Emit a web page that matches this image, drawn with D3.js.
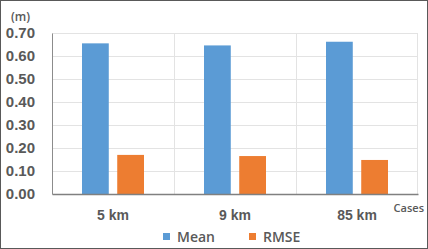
<!DOCTYPE html>
<html>
<head>
<meta charset="utf-8">
<script src="https://cdn.jsdelivr.net/npm/d3@7"></script>
<style>
  body { margin: 0; background: #fff; }
  svg { display: block; font-family: "Open Sans", "Liberation Sans", sans-serif; }
</style>
</head>
<body>
<div id="graph"></div>
<script>
// data
var cases = ["5 km", "9 km", "85 km"];
var seriesNames = ["Mean", "RMSE"];
var meanValues = [0.655, 0.646, 0.662];
var rmseValues = [0.170, 0.165, 0.148];
var yTicks = [0, 0.1, 0.2, 0.3, 0.4, 0.5, 0.6, 0.7];
var colors = ["#5B9BD5", "#ED7D31"];

var W = 428, H = 249;
var m = {top: 33, right: 10, bottom: 55, left: 52};
var w = W - m.left - m.right;
var h = H - m.top - m.bottom;

var svg = d3.select("#graph").append("svg")
    .attr("width", W)
    .attr("height", H);

// outer frame
svg.append("rect")
    .attr("x", 0.5).attr("y", 0.5)
    .attr("width", W - 1).attr("height", H - 1)
    .attr("fill", "#fff").attr("stroke", "#595959");

var g = svg.append("g").attr("transform", "translate(" + m.left + "," + m.top + ")");

var x = d3.scaleBand().domain(cases).range([0, w]).paddingInner(0).paddingOuter(0);
var x1 = d3.scaleBand().domain(seriesNames).range([30, x.bandwidth() - 30]).paddingInner(0.24);
var y = d3.scaleLinear().domain([0, 0.7]).range([h, 0]);

// horizontal gridlines
g.append("g").selectAll("line").data(yTicks.slice(1)).enter().append("line")
    .attr("x1", 0).attr("x2", w)
    .attr("y1", function(d) { return Math.round(y(d)) + 0.5; })
    .attr("y2", function(d) { return Math.round(y(d)) + 0.5; })
    .attr("stroke", "#e3e3e3");

// vertical category separators
g.append("g").selectAll("line").data(cases.slice(1).concat(["end"])).enter().append("line")
    .attr("x1", function(d) { return d === "end" ? w - 0.5 : Math.round(x(d)) + 0.5; })
    .attr("x2", function(d) { return d === "end" ? w - 0.5 : Math.round(x(d)) + 0.5; })
    .attr("y1", 0).attr("y2", h)
    .attr("stroke", "#e3e3e3");

// bars
var groups = g.selectAll(".grp").data(cases).enter().append("g")
    .attr("class", "grp")
    .attr("transform", function(d) { return "translate(" + x(d) + ",0)"; });

groups.selectAll("rect").data(function(d, i) {
        return [{s: "Mean", v: meanValues[i]}, {s: "RMSE", v: rmseValues[i]}];
    }).enter().append("rect")
    .attr("x", function(d) { return x1(d.s); })
    .attr("width", x1.bandwidth())
    .attr("y", function(d) { return y(d.v); })
    .attr("height", function(d) { return h - y(d.v); })
    .attr("fill", function(d, i) { return colors[i]; });

// y axis
var yAxis = d3.axisLeft(y).tickValues(yTicks).tickFormat(d3.format(".2f")).tickSize(0).tickPadding(17);
var ya = g.append("g").call(yAxis);
ya.select(".domain").attr("stroke", "#8c8c8c");
ya.selectAll("text")
    .attr("fill", "#595959")
    .style("font-size", "15px")
    .style("font-weight", "600");

// x axis
var xAxis = d3.axisBottom(x).tickSize(0).tickPadding(16);
var xa = g.append("g").attr("transform", "translate(0," + h + ")").call(xAxis);
xa.select(".domain").attr("stroke", "#808080").attr("stroke-width", 1.3);
xa.selectAll("text")
    .attr("fill", "#595959")
    .style("font-size", "14px")
    .style("font-weight", "600");

// unit labels
svg.append("text").attr("x", 11).attr("y", 21)
    .attr("fill", "#595959").style("font-size", "12px").style("font-weight", "600")
    .text("(m)");
svg.append("text").attr("x", 424).attr("y", 212).attr("text-anchor", "end")
    .attr("fill", "#595959").style("font-size", "11px").style("font-weight", "600")
    .text("Cases");

// legend
var legendX = [163, 249];
var leg = svg.selectAll(".leg").data(seriesNames).enter().append("g")
    .attr("class", "leg")
    .attr("transform", function(d, i) { return "translate(" + legendX[i] + ",233)"; });
leg.append("rect").attr("width", 7).attr("height", 7)
    .attr("fill", function(d, i) { return colors[i]; });
leg.append("text").attr("x", 14).attr("y", 9)
    .attr("fill", "#595959").style("font-size", "14px").style("font-weight", "600")
    .text(function(d) { return d; });
</script>
</body>
</html>
